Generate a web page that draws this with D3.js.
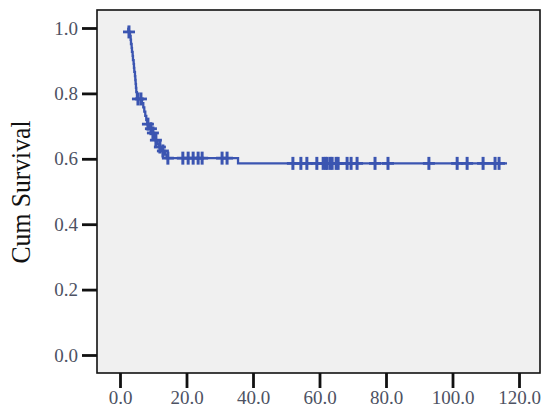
<!DOCTYPE html>
<html>
<head>
<meta charset="utf-8">
<script src="https://cdn.jsdelivr.net/npm/d3@7"></script>
<style>
  body { margin: 0; background: #fff; }
  svg { display: block; }
</style>
</head>
<body>
<div id="km"><svg></svg></div>
<script>
// set the dimensions and margins of the graph
var margin = {top: 10, right: 10, bottom: 47, left: 97},
    width = 550 - margin.left - margin.right,
    height = 420 - margin.top - margin.bottom;

// kaplan-meier steps: time of each drop and survival after it
var startTime = 2.3
var eventTimes = [2.5, 3.0, 3.2, 3.3, 3.5, 3.6, 3.8, 3.9, 4.1, 4.2, 4.3, 4.5, 4.6, 4.7, 4.8, 4.9, 5.1,
    6.6, 7.0, 7.3, 7.6, 7.9, 8.2, 9.0, 9.6, 10.3, 10.6, 11.3, 11.8, 12.5, 13.5, 14.0, 35.5]
var eventSurv = [0.988, 0.976, 0.964, 0.951, 0.939, 0.927, 0.915, 0.902, 0.890, 0.878, 0.866, 0.853,
    0.841, 0.829, 0.817, 0.804, 0.783,
    0.770, 0.757, 0.744, 0.731, 0.718, 0.706, 0.692, 0.679, 0.666, 0.657, 0.645, 0.636, 0.624, 0.613, 0.602, 0.586]
// censored cases
var censorTimes = [2.7, 5.4, 6.3, 8.4, 9.3, 9.9, 10.8, 12.0, 12.9, 14.4,
    18.9, 20.5, 22.0, 23.5, 24.7, 30.7, 32.2,
    52.0, 54.4, 56.2, 59.2, 61.1, 61.8, 62.3, 63.2, 63.8, 65.0, 65.6, 68.3, 69.5, 71.3, 76.7, 80.6,
    92.9, 101.4, 104.4, 109.2, 112.8, 114.0]
var endTime = 116.4

var xTicks = [0, 20, 40, 60, 80, 100, 120]
var yTicks = [0, 0.2, 0.4, 0.6, 0.8, 1.0]

var lineColor = "#3b55b1"
var tickColor = "#4d5263"

var svg = d3.select("#km svg")
    .attr("width", width + margin.left + margin.right)
    .attr("height", height + margin.top + margin.bottom)

var g = svg.append("g")
    .attr("transform", "translate(" + margin.left + "," + margin.top + ")");

// scales (0 -> 23px in from the frame, 120 -> 422px)
var x = d3.scaleLinear()
    .domain([0, 120])
    .range([23, 422]);
var y = d3.scaleLinear()
    .domain([0, 1])
    .range([345, 18]);

// plot background + frame
g.append("rect")
    .attr("x", 0).attr("y", 0)
    .attr("width", width).attr("height", height)
    .attr("fill", "#f0f0f0")
    .attr("stroke", "#111")
    .attr("stroke-width", 1.6);

// x axis below the frame
var xAxis = g.append("g")
    .attr("transform", "translate(0," + height + ")")
    .call(d3.axisBottom(x).tickValues(xTicks).tickSize(15).tickSizeOuter(0).tickPadding(3)
        .tickFormat(d3.format(".1f")));
xAxis.select(".domain").remove();

// y axis left of the frame
var yAxis = g.append("g")
    .call(d3.axisLeft(y).tickValues(yTicks).tickSize(15).tickSizeOuter(0).tickPadding(4)
        .tickFormat(d3.format(".1f")));
yAxis.select(".domain").remove();

g.selectAll(".tick line").attr("stroke", "#111").attr("stroke-width", 2.8);
g.selectAll(".tick text")
    .attr("fill", tickColor)
    .style("font-family", "'Liberation Serif', 'DejaVu Serif', serif")
    .style("font-size", "19px");

// y axis title
svg.append("text")
    .attr("transform", "translate(30,192) rotate(-90)")
    .attr("text-anchor", "middle")
    .attr("textLength", 143)
    .attr("lengthAdjust", "spacingAndGlyphs")
    .style("font-family", "'Liberation Serif', serif")
    .style("font-size", "28px")
    .attr("fill", "#111")
    .text("Cum Survival");

// build the step curve
var steps = [[startTime, 1.0]]
eventTimes.forEach(function(t, i) { steps.push([t, eventSurv[i]]) })
steps.push([endTime, eventSurv[eventSurv.length - 1]])

var survAt = function(t) {
    var s = 1.0
    eventTimes.forEach(function(e, i) { if (e <= t) s = eventSurv[i] })
    return s
}

var line = d3.line()
    .x(function(d) { return x(d[0]) })
    .y(function(d) { return y(d[1]) })
    .curve(d3.curveStepAfter);

g.append("path")
    .datum(steps)
    .attr("fill", "none")
    .attr("stroke", lineColor)
    .attr("stroke-width", 2.3)
    .attr("d", line);

// censor marks
var marks = g.append("g")
    .selectAll("g")
    .data(censorTimes)
    .enter().append("g")
    .attr("transform", function(d) { return "translate(" + x(d) + "," + y(survAt(d)) + ")" });
marks.append("line")
    .attr("x1", -6).attr("x2", 6).attr("y1", 0).attr("y2", 0)
    .attr("stroke", lineColor).attr("stroke-width", 2.8);
marks.append("line")
    .attr("x1", 0).attr("x2", 0).attr("y1", -6.5).attr("y2", 6.5)
    .attr("stroke", lineColor).attr("stroke-width", 3);
</script>
</body>
</html>
